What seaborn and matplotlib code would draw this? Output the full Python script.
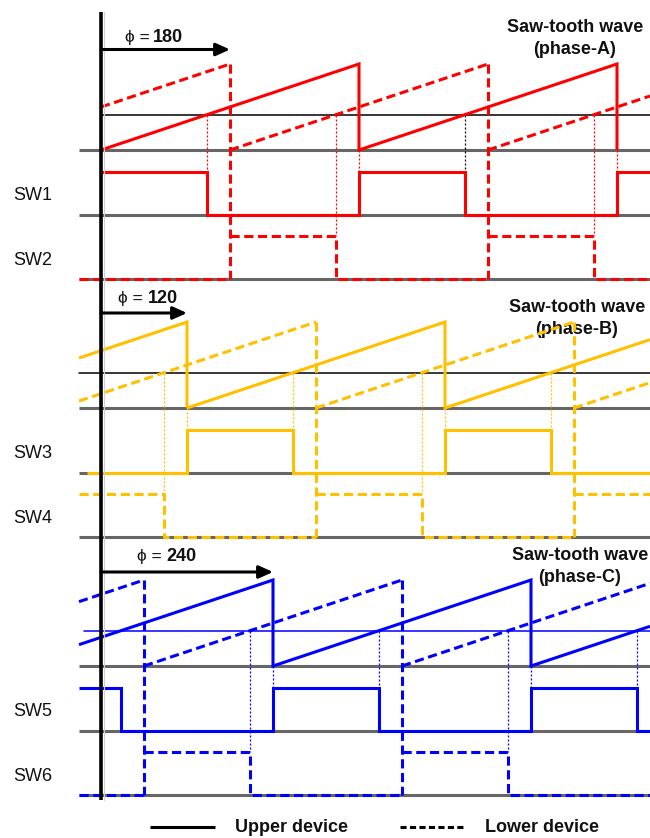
import matplotlib
matplotlib.use("Agg")
import matplotlib.pyplot as plt
import pandas as pd
import seaborn as sns

# ---------------- data ----------------
phase_names = ["A", "B", "C"]
phase_colors = ["#FF0000", "#FFC000", "#0000FF"]
reference_colors = ["#000000", "#000000", "#0000FF"]
phase_shift_deg = [180, 120, 240]
# carrier reset instants, in carrier periods (t = 0 on the time axis)
upper_resets = [[0.0, 1.0], [-2 / 3, 1 / 3, 4 / 3], [-1 / 3, 2 / 3, 5 / 3]]
lower_resets = [[-1 / 2, 1 / 2, 3 / 2], [-1 / 6, 5 / 6, 11 / 6], [-5 / 6, 1 / 6, 7 / 6]]
# modulating reference, in carrier-amplitude units
reference_level = [0.412, 0.412, 0.412]
upper_switch = ["SW1", "SW3", "SW5"]
lower_switch = ["SW2", "SW4", "SW6"]
device_labels = ["Upper device", "Lower device"]

# ---------------- layout ----------------
W_PX, H_PX = 650, 838
PX_T, PX_Y = 258.0, 86.0       # pixels per carrier period / per amplitude unit
X0_PX, Y0_PX = 101.0, 150.0    # time axis and first carrier baseline


def tx(px):
    return (px - X0_PX) / PX_T


def vy(px):
    return (Y0_PX - px) / PX_Y


T_MIN, T_MAX = tx(0), tx(W_PX)
T_LEFT = tx(79)
PANEL = 3.0
UP_LOW, LO_LOW, PULSE = -0.76, -1.50, 0.5
GUIDE_FROM = 0.1

carrier_start = [0.0, T_LEFT, T_LEFT]
ref_start = [0.0, T_LEFT, tx(84)]
upper_sw_start = [0.0, tx(87), T_LEFT]
title_x = [tx(575), tx(577), tx(580)]
title_y = [(vy(32), vy(54)), (vy(312 - 258), vy(334 - 258)), (vy(560 - 516), vy(582 - 516))]
phi_x = [(tx(125), tx(153)), (tx(118), tx(148)), (tx(137), tx(166))]
phi_y = [vy(42), vy(303 - 258), vy(561 - 516)]
arrow_y = [vy(49.5), vy(313 - 258), vy(572 - 516)]

LW = 2.2
DASH = (0, (3.0, 1.5))
DOT = (0, (1.6, 1.6))
GRAY = "#666666"
FONT = ["Liberation Sans", "DejaVu Sans"]

sns.set_theme(style="white")
plt.rcParams["font.family"] = FONT

fig = plt.figure(figsize=(W_PX / 100, H_PX / 100), dpi=100)
ax = fig.add_axes([0, 0, 1, 1])


def draw_pieces(pieces, **kw):
    rows = [(i, t, v) for i, (ts, vs) in enumerate(pieces) for t, v in zip(ts, vs)]
    df = pd.DataFrame(rows, columns=["piece", "t", "v"])
    sns.lineplot(data=df, x="t", y="v", units="piece", estimator=None,
                 sort=False, legend=False, ax=ax, **kw)


def upper_carrier(resets, t0, t1, off):
    ts, vs = [], []
    for r in resets:
        a, b = max(r, t0), min(r + 1.0, t1)
        if a >= b:
            continue
        ts += [a, b]
        vs += [a - r + off, b - r + off]
        if r + 1.0 <= t1:
            ts.append(r + 1.0)
            vs.append(off)
    return [(ts, vs)]


def lower_carrier(resets, t0, t1, off):
    pieces = []
    for r in resets:
        a, b = max(r, t0), min(r + 1.0, t1)
        if a < b:
            pieces.append(([a, b], [a - r + off, b - r + off]))
    return pieces


def extended(resets):
    return [resets[0] - 1.0] + list(resets) + [resets[-1] + 1.0]


def switch_pieces(resets, ref, t0, t1, low, split_rising):
    ext = extended(resets)
    hi = low + PULSE

    def level(on):
        return hi if on else low

    last = max(r for r in ext if r <= t0)
    state = (t0 - last) < ref
    edges = sorted([(r, True) for r in ext] + [(r + ref, False) for r in ext])
    edges = [(e, up) for e, up in edges if t0 < e < t1]
    pieces, ts, vs = [], [t0], [level(state)]
    for e, up in edges:
        if up == state:
            continue
        ts.append(e)
        vs.append(level(state))
        if up and split_rising:
            pieces.append((ts, vs))
            ts, vs = [e], [hi]
        else:
            ts.append(e)
            vs.append(level(up))
        state = up
    ts.append(t1)
    vs.append(level(state))
    pieces.append((ts, vs))
    return pieces


# the second SW1 turn-off marker is drawn in black
guide_color_override = {(0, 1): "#000000"}

for k in range(3):
    off = -PANEL * k
    col = phase_colors[k]
    ref = reference_level[k]

    # grey baselines of the carrier and of the two switch signals
    base = [([T_LEFT, T_MAX], [off + lv, off + lv]) for lv in (0.0, UP_LOW, LO_LOW)]
    draw_pieces(base, color=GRAY, lw=LW, zorder=1, solid_capstyle="butt")

    # modulating reference
    draw_pieces([([ref_start[k], T_MAX], [off + ref, off + ref])],
                color=reference_colors[k], lw=1.1, zorder=2)

    # carriers
    draw_pieces(upper_carrier(upper_resets[k], carrier_start[k], T_MAX, off),
                color=col, lw=LW, zorder=4, solid_joinstyle="miter", solid_capstyle="butt")
    draw_pieces(lower_carrier(lower_resets[k], carrier_start[k], T_MAX, off),
                color=col, lw=LW, linestyle=DASH, zorder=4)

    # guide lines: carrier resets and reference crossings
    up_hi, lo_hi = off + UP_LOW + PULSE, off + LO_LOW + PULSE
    drops_u = [r + 1 for r in upper_resets[k] if carrier_start[k] < r + 1 <= T_MAX]
    draw_pieces([([t, t], [off, up_hi]) for t in drops_u], color=col, lw=0.9,
                linestyle=DOT, zorder=3)
    cross_u = [r + ref for r in extended(upper_resets[k]) if GUIDE_FROM < r + ref < T_MAX]
    for j, t in enumerate(cross_u):
        draw_pieces([([t, t], [off + ref, up_hi])],
                    color=guide_color_override.get((k, j), col), lw=0.9,
                    linestyle=DOT, zorder=3)
    drops_l = [r + 1 for r in lower_resets[k] if carrier_start[k] < r + 1 <= T_MAX]
    draw_pieces([([t, t], [off + 1.0, off + LO_LOW]) for t in drops_l], color=col,
                lw=LW, linestyle=DASH, zorder=4)
    cross_l = [r + ref for r in extended(lower_resets[k]) if GUIDE_FROM < r + ref < T_MAX]
    draw_pieces([([t, t], [off + ref, lo_hi]) for t in cross_l], color=col, lw=0.9,
                linestyle=DOT, zorder=3)

    # switch signals
    draw_pieces(switch_pieces(upper_resets[k], ref, upper_sw_start[k], T_MAX,
                              off + UP_LOW, False),
                color=col, lw=LW, zorder=4, solid_joinstyle="miter", solid_capstyle="butt")
    draw_pieces(switch_pieces(lower_resets[k], ref, T_LEFT, T_MAX,
                              off + LO_LOW, True),
                color=col, lw=LW, linestyle=DASH, zorder=4)

    # labels
    ax.text(tx(13.5), off - 0.581, upper_switch[k], fontsize=13, ha="left",
            va="baseline", color="#111111")
    ax.text(tx(13.5), off - 1.337, lower_switch[k], fontsize=13, ha="left",
            va="baseline", color="#111111")
    ax.text(title_x[k], off + title_y[k][0], "Saw-tooth wave", fontsize=13,
            fontweight="bold", ha="center", va="baseline", color="#111111")
    ax.text(title_x[k], off + title_y[k][1], f"(phase-{phase_names[k]})", fontsize=13,
            fontweight="bold", ha="center", va="baseline", color="#111111")
    ax.text(phi_x[k][0], off + phi_y[k], "\u03d5 =", fontsize=12.5, ha="left",
            va="baseline", color="#111111", family=FONT)
    ax.text(phi_x[k][1], off + phi_y[k], str(phase_shift_deg[k]), fontsize=13,
            fontweight="bold", ha="left", va="baseline", color="#111111")
    ax.annotate("", xy=(phase_shift_deg[k] / 360.0, off + arrow_y[k]),
                xytext=(0.0, off + arrow_y[k]),
                arrowprops=dict(arrowstyle="-|>,head_length=0.6,head_width=0.27",
                                lw=2.2, color="black", shrinkA=0, shrinkB=0,
                                mutation_scale=14), zorder=7)

# time axis
ax.plot([0, 0], [vy(12), vy(800)], color="black", lw=2.6, zorder=6,
        solid_capstyle="butt")
ax.plot([tx(104), tx(104)], [vy(12), vy(800)], color="#cfcfcf", lw=0.8, zorder=5)

# legend
ly = vy(827)
ax.plot([tx(150), tx(215)], [ly, ly], color="black", lw=LW, solid_capstyle="butt")
ax.text(tx(235), vy(832), device_labels[0], fontsize=13, fontweight="bold",
        ha="left", va="baseline", color="#111111")
ax.plot([tx(400), tx(465)], [ly, ly], color="black", lw=LW, linestyle=(0, (2.0, 1.1)))
ax.text(tx(485), vy(832), device_labels[1], fontsize=13, fontweight="bold",
        ha="left", va="baseline", color="#111111")

ax.set_xlim(T_MIN, T_MAX)
ax.set_ylim(vy(H_PX), vy(0))
ax.set_axis_off()
fig.savefig("out.png", dpi=100)
